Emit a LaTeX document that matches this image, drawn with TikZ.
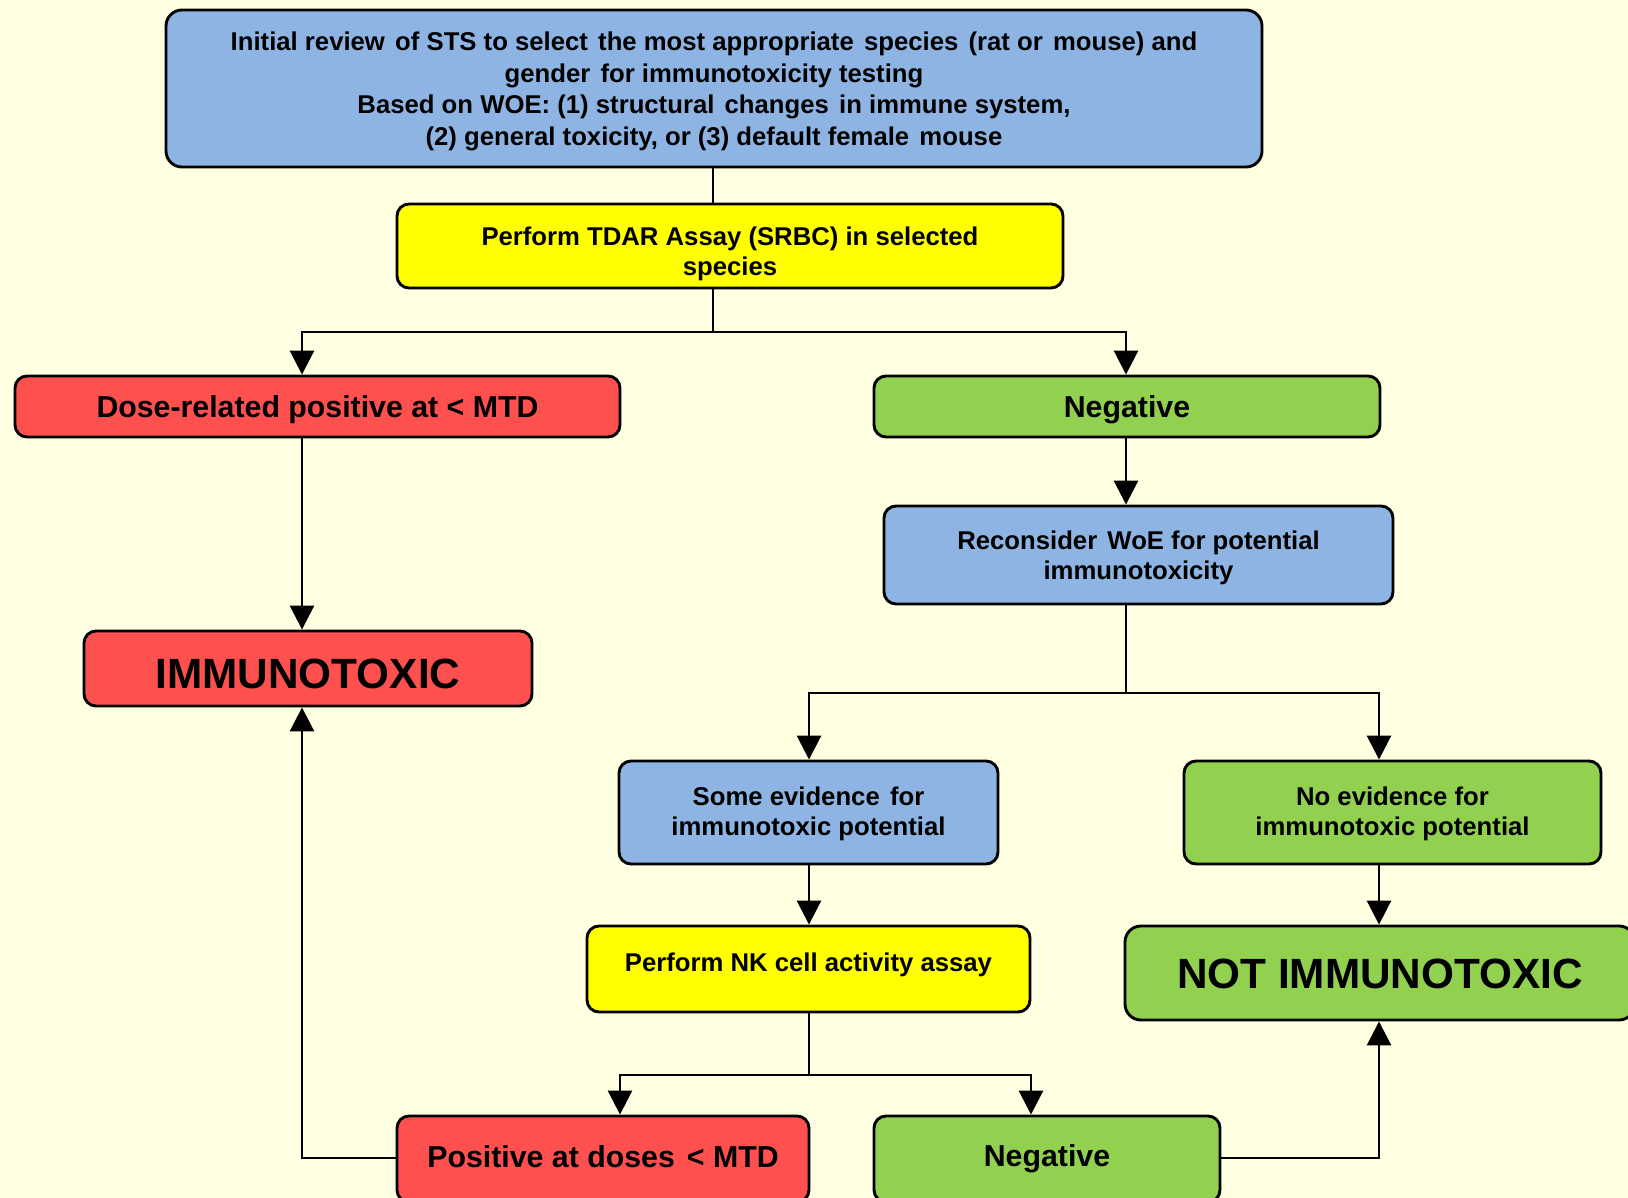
\documentclass[tikz,border=0pt]{standalone}
\usepackage{fontspec}
\setmainfont{Liberation Sans}
\usetikzlibrary{arrows.meta}
\definecolor{bgc}{RGB}{255,255,225}
\definecolor{bluec}{RGB}{141,180,226}
\definecolor{redc}{RGB}{255,80,80}
\definecolor{greenc}{RGB}{146,208,80}
\definecolor{yellowc}{RGB}{255,255,0}
\newcommand{\xs}{\hspace{0.12em}}
\begin{document}
\begin{tikzpicture}[x=1pt,y=-1pt,
  box/.style={draw=black,line width=2.9pt,rounded corners=12pt,inner sep=0pt},
  smtxt/.style={inner sep=0pt,align=center,font=\bfseries\fontsize{25.7}{30}\selectfont},
  midtxt/.style={inner sep=0pt,align=center,font=\bfseries\fontsize{30.3}{34}\selectfont},
  bigtxt/.style={inner sep=0pt,align=center,font=\bfseries\fontsize{42.3}{46}\selectfont},
  conn/.style={line width=2.9pt},
  arr/.style={conn,-{Triangle[length=24pt,width=24pt]}}]
\fill[bgc] (0,0) rectangle (1628,1198);
\useasboundingbox (0,0) rectangle (1628,1198);

\node[box,fill=bluec,minimum width=1096pt,minimum height=157pt,rounded corners=16pt,
  label={[smtxt,font=\bfseries\fontsize{25.7}{31.8}\selectfont,yshift=-3pt]center:{Initial review\xs{} of STS to select\xs{} the most appropriate\xs{} species\xs{} (rat or\xs{} mouse) and\\
   gender\xs{} for immunotoxicity testing\\
   Based on WOE: (1) structural\xs{} changes\xs{} in immune system,\\
   (2) general toxicity, or (3) default female\xs{} mouse}}] (top) at (714,88.5) {};
\node[box,fill=yellowc,minimum width=666pt,minimum height=84pt,
  label={[smtxt,yshift=-7.5pt]center:{Perform TDAR Assay (SRBC) in selected\\ species}}] (tdar) at (730,246) {};
\node[box,fill=redc,minimum width=605pt,minimum height=61pt,
  label={[midtxt,yshift=-3pt]center:{Dose-related positive at < MTD}}] (dose) at (317.5,406.5) {};
\node[box,fill=greenc,minimum width=506pt,minimum height=61pt,
  label={[midtxt,yshift=-3pt]center:{Negative}}] (neg1) at (1127,406.5) {};
\node[box,fill=bluec,minimum width=509pt,minimum height=98pt,
  label={[smtxt,yshift=-2.5pt]center:{Reconsider\xs{} WoE for potential\\ immunotoxicity}}] (recon) at (1138.5,555) {};
\node[box,fill=redc,minimum width=448pt,minimum height=75pt,
  label={[bigtxt,yshift=-5pt]center:{IMMUNOTOXIC}}] (immuno) at (308,668.5) {};
\node[box,fill=bluec,minimum width=379pt,minimum height=103pt,
  label={[smtxt,yshift=-1.5pt]center:{Some evidence\xs{} for\\ immunotoxic potential}}] (some) at (808.5,812.5) {};
\node[box,fill=greenc,minimum width=417pt,minimum height=103pt,
  label={[smtxt,yshift=-1.5pt]center:{No evidence for\\ immunotoxic potential}}] (noev) at (1392.5,812.5) {};
\node[box,fill=yellowc,minimum width=443pt,minimum height=86pt,
  label={[smtxt,yshift=4pt]center:{Perform NK cell activity assay}}] (nk) at (808.5,969) {};
\node[box,fill=greenc,minimum width=510pt,minimum height=94pt,rounded corners=16pt,
  label={[bigtxt,yshift=-1pt]center:{NOT IMMUNOTOXIC}}] (notimm) at (1380,973) {};
\node[box,fill=redc,minimum width=412pt,minimum height=86pt,
  label={[midtxt,yshift=2pt]center:{Positive at doses\xs{} < MTD}}] (pos) at (603,1159) {};
\node[box,fill=greenc,minimum width=346pt,minimum height=86pt,
  label={[midtxt]center:{Negative}}] (neg2) at (1047,1159) {};

\coordinate (j1) at (713,332);
\coordinate (cL) at (302,332);
\coordinate (cR) at (1126,332);
\coordinate (j2) at (1126,693);
\coordinate (dL) at (809,693);
\coordinate (dR) at (1379,693);
\coordinate (j3) at (809,1075);
\coordinate (eL) at (620,1075);
\coordinate (eR) at (1031,1075);
\coordinate (fL) at (302,1158);
\coordinate (fR) at (1379,1158);

\draw[conn] (top.south -| j1) -- (tdar.north -| j1);
\draw[conn] (tdar.south -| j1) -- (j1);
\draw[arr] (j1) -- (cL) -- (dose.north -| cL);
\draw[arr] (j1) -- (cR) -- (neg1.north -| cR);
\draw[arr] (dose.south -| cL) -- (immuno.north -| cL);
\draw[arr] (neg1.south -| cR) -- (recon.north -| cR);
\draw[conn] (recon.south -| j2) -- (j2);
\draw[arr] (j2) -- (dL) -- (some.north -| dL);
\draw[arr] (j2) -- (dR) -- (noev.north -| dR);
\draw[arr] (some.south -| dL) -- (nk.north -| dL);
\draw[arr] (noev.south -| dR) -- (notimm.north -| dR);
\draw[conn] (nk.south -| j3) -- (j3);
\draw[arr] (j3) -- (eL) -- (pos.north -| eL);
\draw[arr] (j3) -- (eR) -- (neg2.north -| eR);
\draw[arr] (pos.west |- fL) -- (fL) -- (immuno.south -| fL);
\draw[arr] (neg2.east |- fR) -- (fR) -- (notimm.south -| fR);
\end{tikzpicture}
\end{document}
